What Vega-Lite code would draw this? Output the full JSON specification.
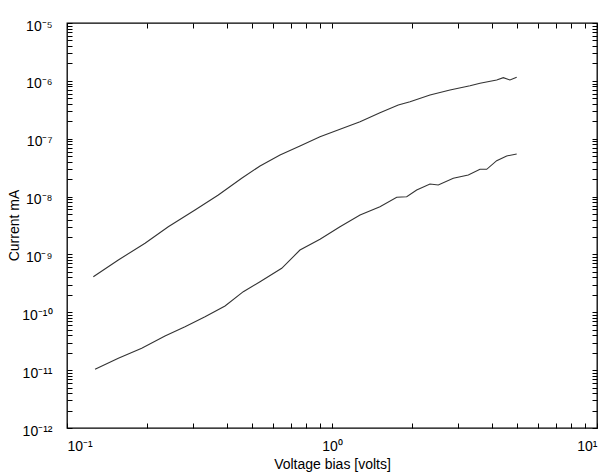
{
  "$schema": "https://vega.github.io/schema/vega-lite/v6.json",
  "width": 530,
  "height": 405,
  "autosize": "none",
  "padding": {"left": 67, "top": 23, "right": 6, "bottom": 44},
  "background": "white",
  "config": {
    "view": {"stroke": "black", "strokeWidth": 1.3},
    "axis": {
      "grid": false,
      "domain": false,
      "ticks": true,
      "tickColor": "black",
      "tickWidth": 1,
      "tickSize": 5,
      "offset": -5,
      "labelColor": "black",
      "titleColor": "black",
      "labelFont": "Liberation Sans",
      "titleFont": "Liberation Sans",
      "labelFontSize": 14,
      "titleFontSize": 14,
      "titleFontWeight": "normal",
      "labelOverlap": false
    }
  },
  "data": {
    "values": [
      {"s": "upper", "v": 0.1257, "i": 4.12e-10},
      {"s": "upper", "v": 0.1562, "i": 8.02e-10},
      {"s": "upper", "v": 0.1970, "i": 1.56e-9},
      {"s": "upper", "v": 0.2411, "i": 3.01e-9},
      {"s": "upper", "v": 0.3041, "i": 5.86e-9},
      {"s": "upper", "v": 0.3724, "i": 1.064e-8},
      {"s": "upper", "v": 0.4562, "i": 2.07e-8},
      {"s": "upper", "v": 0.5351, "i": 3.38e-8},
      {"s": "upper", "v": 0.6365, "i": 5.24e-8},
      {"s": "upper", "v": 0.757, "i": 7.48e-8},
      {"s": "upper", "v": 0.901, "i": 1.08e-7},
      {"s": "upper", "v": 1.072, "i": 1.455e-7},
      {"s": "upper", "v": 1.276, "i": 1.97e-7},
      {"s": "upper", "v": 1.517, "i": 2.82e-7},
      {"s": "upper", "v": 1.779, "i": 3.83e-7},
      {"s": "upper", "v": 1.970, "i": 4.36e-7},
      {"s": "upper", "v": 2.343, "i": 5.70e-7},
      {"s": "upper", "v": 2.788, "i": 6.95e-7},
      {"s": "upper", "v": 3.318, "i": 8.24e-7},
      {"s": "upper", "v": 3.618, "i": 9.08e-7},
      {"s": "upper", "v": 4.183, "i": 1.035e-6},
      {"s": "upper", "v": 4.431, "i": 1.135e-6},
      {"s": "upper", "v": 4.695, "i": 1.035e-6},
      {"s": "upper", "v": 4.977, "i": 1.152e-6},
      {"s": "lower", "v": 0.1276, "i": 1.035e-11},
      {"s": "lower", "v": 0.1562, "i": 1.60e-11},
      {"s": "lower", "v": 0.1914, "i": 2.39e-11},
      {"s": "lower", "v": 0.2343, "i": 3.89e-11},
      {"s": "lower", "v": 0.2788, "i": 5.64e-11},
      {"s": "lower", "v": 0.3318, "i": 8.39e-11},
      {"s": "lower", "v": 0.3948, "i": 1.285e-10},
      {"s": "lower", "v": 0.4627, "i": 2.27e-10},
      {"s": "lower", "v": 0.5351, "i": 3.38e-10},
      {"s": "lower", "v": 0.6459, "i": 5.75e-10},
      {"s": "lower", "v": 0.757, "i": 1.19e-9},
      {"s": "lower", "v": 0.901, "i": 1.83e-9},
      {"s": "lower", "v": 1.072, "i": 3.01e-9},
      {"s": "lower", "v": 1.276, "i": 4.81e-9},
      {"s": "lower", "v": 1.517, "i": 6.68e-9},
      {"s": "lower", "v": 1.755, "i": 9.72e-9},
      {"s": "lower", "v": 1.914, "i": 9.95e-9},
      {"s": "lower", "v": 2.087, "i": 1.30e-8},
      {"s": "lower", "v": 2.343, "i": 1.65e-8},
      {"s": "lower", "v": 2.518, "i": 1.585e-8},
      {"s": "lower", "v": 2.869, "i": 2.07e-8},
      {"s": "lower", "v": 3.268, "i": 2.36e-8},
      {"s": "lower", "v": 3.618, "i": 2.96e-8},
      {"s": "lower", "v": 3.835, "i": 2.96e-8},
      {"s": "lower", "v": 4.183, "i": 4.17e-8},
      {"s": "lower", "v": 4.562, "i": 5.03e-8},
      {"s": "lower", "v": 4.977, "i": 5.45e-8}
    ]
  },
  "resolve": {
    "scale": {"x": "shared", "y": "shared"},
    "axis": {"x": "independent", "y": "independent"}
  },
  "layer": [
    {
      "mark": {"type": "line", "color": "#333333", "strokeWidth": 1.1, "clip": true},
      "encoding": {
        "x": {
          "field": "v", "type": "quantitative",
          "scale": {"type": "log", "domain": [0.1, 10], "nice": false},
          "axis": {
            "orient": "bottom",
            "title": "Voltage bias [volts]",
            "titleX": 265,
            "titleY": 45,
            "titleBaseline": "alphabetic",
            "values": [0.1,0.2,0.3,0.4,0.5,0.6,0.7,0.8,0.9,1,2,3,4,5,6,7,8,9,10],
            "labelPadding": 11,
            "labelExpr": "abs(datum.value/pow(10,round(log(datum.value)/LN10))-1)<1e-6 ? '10' + ['⁻¹','⁰','¹'][round(log(datum.value)/LN10)+1] : ''"
          }
        },
        "y": {
          "field": "i", "type": "quantitative",
          "scale": {"type": "log", "domain": [1e-12, 1e-5], "nice": false},
          "axis": {
            "orient": "left",
            "title": "Current mA",
            "titleX": -51,
            "titleY": 202,
            "titleBaseline": "bottom",
            "values": [1e-12,2e-12,3e-12,4e-12,5e-12,6e-12,7e-12,8e-12,9e-12,1e-11,2e-11,3e-11,4e-11,5e-11,6e-11,7e-11,8e-11,9e-11,1e-10,2e-10,3e-10,4e-10,5e-10,6e-10,7e-10,8e-10,9e-10,1e-9,2e-9,3e-9,4e-9,5e-9,6e-9,7e-9,8e-9,9e-9,1e-8,2e-8,3e-8,4e-8,5e-8,6e-8,7e-8,8e-8,9e-8,1e-7,2e-7,3e-7,4e-7,5e-7,6e-7,7e-7,8e-7,9e-7,1e-6,2e-6,3e-6,4e-6,5e-6,6e-6,7e-6,8e-6,9e-6,1e-5],
            "labelPadding": 15,
            "labelOffset": 3,
            "labelExpr": "abs(datum.value/pow(10,round(log(datum.value)/LN10))-1)<1e-6 ? '10' + ['⁻¹²','⁻¹¹','⁻¹⁰','⁻⁹','⁻⁸','⁻⁷','⁻⁶','⁻⁵'][round(log(datum.value)/LN10)+12] : ''"
          }
        },
        "detail": {"field": "s", "type": "nominal"}
      }
    },
    {
      "mark": {"type": "line", "opacity": 0},
      "encoding": {
        "x": {
          "field": "v", "type": "quantitative",
          "axis": {
            "orient": "top",
            "title": null,
            "labels": false,
            "values": [0.1,0.2,0.3,0.4,0.5,0.6,0.7,0.8,0.9,1,2,3,4,5,6,7,8,9,10]
          }
        },
        "y": {
          "field": "i", "type": "quantitative",
          "axis": {
            "orient": "right",
            "title": null,
            "labels": false,
            "values": [1e-12,2e-12,3e-12,4e-12,5e-12,6e-12,7e-12,8e-12,9e-12,1e-11,2e-11,3e-11,4e-11,5e-11,6e-11,7e-11,8e-11,9e-11,1e-10,2e-10,3e-10,4e-10,5e-10,6e-10,7e-10,8e-10,9e-10,1e-9,2e-9,3e-9,4e-9,5e-9,6e-9,7e-9,8e-9,9e-9,1e-8,2e-8,3e-8,4e-8,5e-8,6e-8,7e-8,8e-8,9e-8,1e-7,2e-7,3e-7,4e-7,5e-7,6e-7,7e-7,8e-7,9e-7,1e-6,2e-6,3e-6,4e-6,5e-6,6e-6,7e-6,8e-6,9e-6,1e-5]
          }
        },
        "detail": {"field": "s", "type": "nominal"}
      }
    }
  ]
}
